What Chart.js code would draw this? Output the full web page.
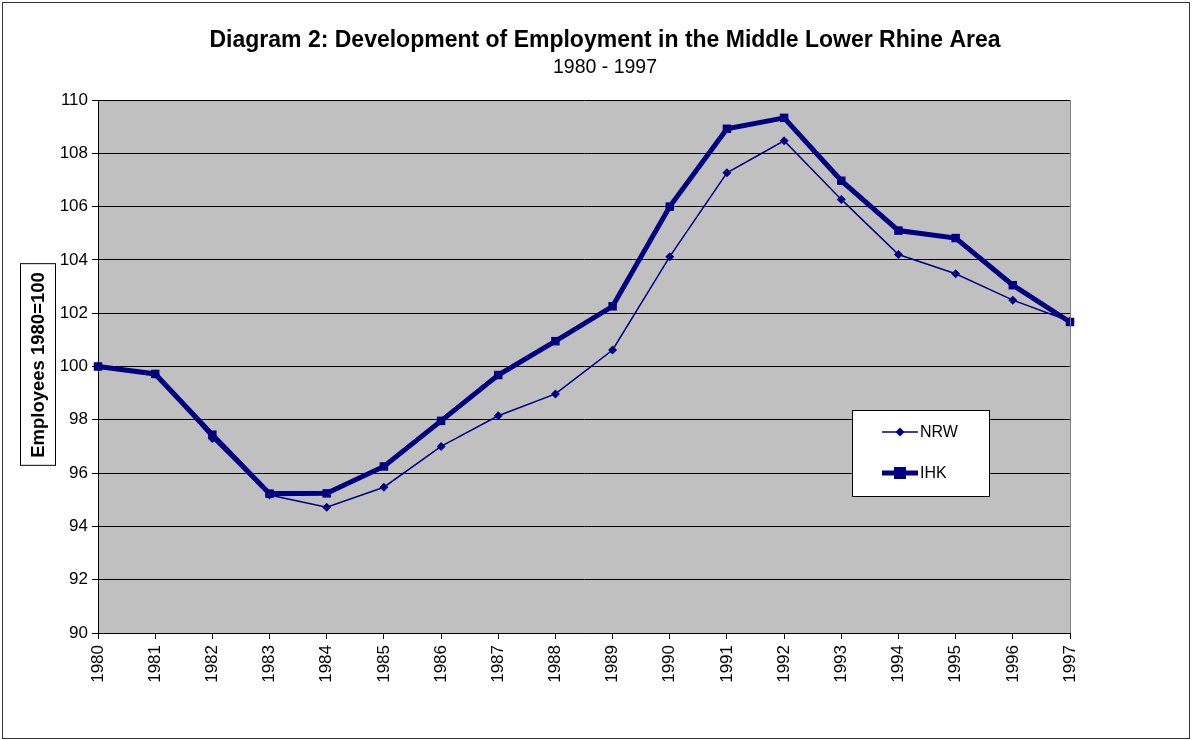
<!DOCTYPE html>
<html>
<head>
<meta charset="utf-8">
<title>Diagram 2</title>
<script src="https://cdn.jsdelivr.net/npm/chart.js@4.4.1/dist/chart.umd.min.js"></script>
<style>
    html, body { margin: 0; padding: 0; background: #fff; }
    #wrap { width: 1192px; height: 740px; position: relative; }
</style>
</head>
<body>
<div id="wrap"><canvas id="empChart" width="1192" height="740"></canvas></div>
<script>
// data (index, 1980 = 100)
const years = ['1980','1981','1982','1983','1984','1985','1986','1987','1988','1989',
               '1990','1991','1992','1993','1994','1995','1996','1997'];
const nrwValues = [100, 99.72, 97.3, 95.18, 94.72, 95.47, 97.0, 98.15, 98.97, 100.62,
                   104.12, 107.27, 108.47, 106.27, 104.2, 103.48, 102.49, 101.7];
const ihkValues = [100, 99.72, 97.44, 95.23, 95.24, 96.25, 97.96, 99.68, 100.95, 102.26,
                   106.0, 108.92, 109.33, 106.97, 105.1, 104.82, 103.05, 101.67];
const yTicks = [90, 92, 94, 96, 98, 100, 102, 104, 106, 108, 110];

const NAVY = '#000080';
const FONT = 'Liberation Sans, Arial, sans-serif';

// plot background, outer frame, right border and boxed axis title
const frame = {
    id: 'frame',
    beforeDraw(chart) {
        const { ctx, chartArea: a } = chart;
        ctx.save();
        ctx.fillStyle = '#fff';
        ctx.fillRect(0, 0, chart.width, chart.height);
        ctx.strokeStyle = '#333';
        ctx.lineWidth = 1;
        ctx.strokeRect(2.5, 2.5, chart.width - 5, chart.height - 4);
        ctx.fillStyle = '#c0c0c0';
        ctx.fillRect(a.left, a.top, a.right - a.left, a.bottom - a.top);
        ctx.restore();
    },
    afterDraw(chart) {
        const { ctx, chartArea: a } = chart;
        ctx.save();
        ctx.strokeStyle = '#808080';
        ctx.lineWidth = 1;
        ctx.beginPath();
        ctx.moveTo(a.right + 0.5, a.top);
        ctx.lineTo(a.right + 0.5, a.bottom);
        ctx.stroke();

        const label = 'Employees 1980=100';
        ctx.translate(37, 365);
        ctx.rotate(-Math.PI / 2);
        ctx.font = 'bold 18.5px ' + FONT;
        const w = ctx.measureText(label).width;
        ctx.fillStyle = '#fff';
        ctx.fillRect(-w / 2 - 8, -17, w + 16, 35);
        ctx.strokeStyle = '#000';
        ctx.strokeRect(-w / 2 - 8 + 0.5, -17 + 0.5, w + 16, 35);
        ctx.fillStyle = '#000';
        ctx.textAlign = 'center';
        ctx.textBaseline = 'middle';
        ctx.fillText(label, 0, 1.5);
        ctx.restore();
    }
};

// legend box inside the plot, line + marker like the original
const boxLegend = {
    id: 'boxLegend',
    afterDraw(chart) {
        const { ctx } = chart;
        const x = 852, y = 410, w = 137, h = 86;
        ctx.save();
        ctx.fillStyle = '#fff';
        ctx.fillRect(x, y, w, h);
        ctx.strokeStyle = '#000';
        ctx.lineWidth = 1;
        ctx.strokeRect(x + 0.5, y + 0.5, w, h);
        const rows = [432, 473];
        chart.data.datasets.forEach((ds, i) => {
            const ly = rows[i];
            ctx.strokeStyle = ds.borderColor;
            ctx.lineWidth = ds.borderWidth;
            ctx.beginPath();
            ctx.moveTo(882, ly);
            ctx.lineTo(918, ly);
            ctx.stroke();
            ctx.fillStyle = ds.pointBackgroundColor;
            const r = ds.pointRadius;
            ctx.beginPath();
            if (ds.pointStyle === 'rectRot') {
                ctx.moveTo(900, ly - r); ctx.lineTo(900 + r, ly);
                ctx.lineTo(900, ly + r); ctx.lineTo(900 - r, ly);
                ctx.closePath();
            } else {
                ctx.rect(900 - r, ly - r, 2 * r, 2 * r);
            }
            ctx.fill();
            ctx.fillStyle = '#000';
            ctx.font = '16px ' + FONT;
            ctx.textBaseline = 'middle';
            ctx.fillText(ds.label, 920, ly + 1);
        });
        ctx.restore();
    }
};

new Chart(document.getElementById('empChart').getContext('2d'), {
    type: 'line',
    data: {
        labels: years,
        datasets: [
            { label: 'NRW', data: nrwValues, borderColor: NAVY, borderWidth: 1.5, clip: false,
              pointStyle: 'rectRot', pointRadius: 4.5, pointBackgroundColor: NAVY, pointBorderWidth: 0, tension: 0 },
            { label: 'IHK', data: ihkValues, borderColor: NAVY, borderWidth: 5, clip: false,
              pointStyle: 'rect', pointRadius: 6, pointBackgroundColor: NAVY, pointBorderWidth: 0, tension: 0 }
        ]
    },
    options: {
        responsive: false,
        animation: false,
        layout: { padding: { left: 18, right: 0, top: 0, bottom: 0 } },
        plugins: {
            legend: { display: false },
            tooltip: { enabled: false },
            title: {
                display: true,
                text: 'Diagram 2: Development of Employment in the Middle Lower Rhine Area',
                color: '#000',
                font: { family: FONT, size: 23, weight: 'bold' },
                padding: { top: 27, bottom: 1 }
            },
            subtitle: {
                display: true,
                text: '1980 - 1997',
                color: '#000',
                font: { family: FONT, size: 19.5 },
                padding: { top: 0, bottom: 21 }
            }
        },
        scales: {
            x: {
                type: 'category',
                offset: false,
                afterFit(scale) { scale.height = 107; },
                grid: { drawOnChartArea: false, color: '#000', tickLength: 6 },
                border: { color: '#000', width: 1 },
                ticks: { color: '#000', font: { family: FONT, size: 17 }, minRotation: 90, maxRotation: 90, padding: 6, autoSkip: false }
            },
            y: {
                min: 90,
                max: 110,
                afterFit(scale) { scale.width = 80; },
                afterBuildTicks(scale) { scale.ticks = yTicks.map(v => ({ value: v })); },
                grid: { color: '#000', lineWidth: 1, tickLength: 6 },
                border: { color: '#000', width: 1 },
                ticks: { color: '#000', font: { family: FONT, size: 17 }, padding: 4 }
            },
            // empty right axis, only reserves the white margin right of the plot
            yRight: {
                position: 'right',
                min: 90,
                max: 110,
                afterFit(scale) { scale.width = 122; },
                grid: { display: false, drawOnChartArea: false },
                border: { display: false },
                ticks: { display: false }
            }
        }
    },
    plugins: [frame, boxLegend]
});
</script>
</body>
</html>
